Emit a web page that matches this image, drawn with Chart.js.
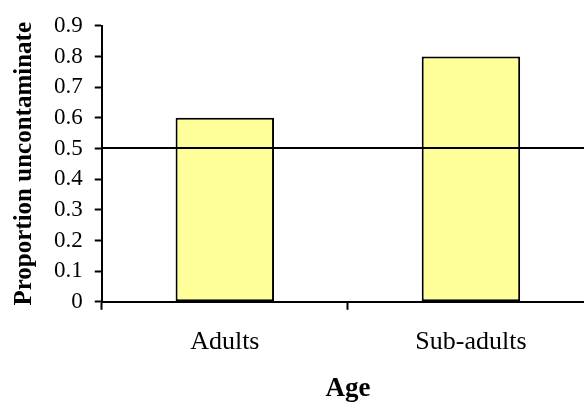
<!DOCTYPE html>
<html>
<head>
<meta charset="utf-8">
<script src="https://cdn.jsdelivr.net/npm/chart.js@4/dist/chart.umd.min.js"></script>
<style>
  html, body { margin: 0; padding: 0; background: #fff; overflow: hidden; }
  #wrap { position: relative; width: 594px; height: 403px; }
</style>
</head>
<body>
<div id="wrap"><canvas id="chart"></canvas></div>
<script>
// Proportion of uncontaminated samples by age class
const categories = ['Adults', 'Sub-adults'];
const proportions = [0.6, 0.8];
const yTickLabels = ['0', '0.1', '0.2', '0.3', '0.4', '0.5', '0.6', '0.7', '0.8', '0.9'];
const referenceLevel = 0.5;

const serif = '"Liberation Serif", "Times New Roman", serif';

// Horizontal reference line across the plot area, drawn above the bars
const referenceLine = {
  id: 'referenceLine',
  afterDatasetsDraw(chart) {
    const { ctx, chartArea, scales } = chart;
    const y = Math.round(scales.y.getPixelForValue(referenceLevel));
    ctx.save();
    ctx.strokeStyle = '#000';
    ctx.lineWidth = 2;
    ctx.beginPath();
    ctx.moveTo(chartArea.left, y);
    ctx.lineTo(chartArea.right, y);
    ctx.stroke();
    ctx.restore();
  }
};

new Chart(document.getElementById('chart'), {
  type: 'bar',
  data: {
    labels: categories,
    datasets: [{
      data: proportions,
      backgroundColor: '#FFFF99',
      borderColor: '#000',
      borderWidth: 2,
      borderSkipped: false,
      barPercentage: 0.4,
      categoryPercentage: 1.0
    }]
  },
  options: {
    responsive: true,
    maintainAspectRatio: false,
    animation: false,
    layout: { padding: { top: 10, left: 10, right: 0, bottom: 0 } },
    plugins: {
      legend: { display: false },
      tooltip: { enabled: false }
    },
    scales: {
      x: {
        offset: true,
        border: { display: true, color: '#000', width: 2 },
        grid: {
          display: true,
          offset: true,
          drawOnChartArea: false,
          drawTicks: true,
          tickLength: 8,
          tickWidth: 2,
          tickColor: '#000'
        },
        ticks: {
          color: '#000',
          font: { family: serif, size: 26 },
          padding: 17
        },
        title: {
          display: true,
          text: 'Age',
          color: '#000',
          font: { family: serif, size: 27, weight: 'bold', lineHeight: 1.0 },
          padding: { top: 1, bottom: 0 }
        }
      },
      y: {
        min: 0,
        max: 0.9,
        border: { display: true, color: '#000', width: 2 },
        grid: {
          display: true,
          drawOnChartArea: false,
          drawTicks: true,
          tickLength: 7,
          tickWidth: 2,
          tickColor: '#000'
        },
        ticks: {
          stepSize: 0.1,
          autoSkip: false,
          color: '#000',
          font: { family: serif, size: 23 },
          padding: 12,
          callback: (value, index) => yTickLabels[index]
        },
        title: {
          display: true,
          text: 'Proportion uncontaminate',
          color: '#000',
          font: { family: serif, size: 25, weight: 'bold' },
          padding: { top: 0, bottom: 2 }
        }
      }
    }
  },
  plugins: [referenceLine]
});
</script>
</body>
</html>
